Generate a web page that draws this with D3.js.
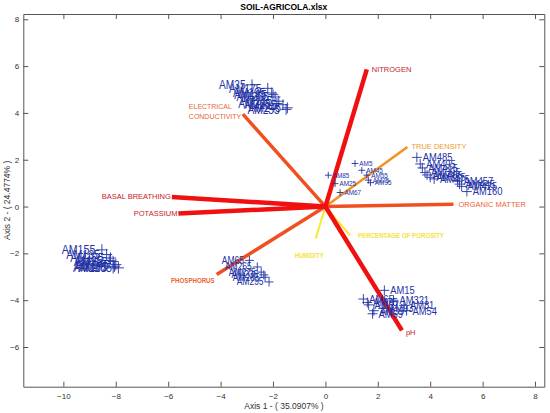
<!DOCTYPE html>
<html>
<head>
<meta charset="utf-8">
<script src="https://cdn.jsdelivr.net/npm/d3@7"></script>
<style>
	body { margin: 0; background: #fff; }
	text { font-family: "Liberation Sans", Arial, sans-serif; }
</style>
</head>
<body>
<div id="chart"></div>
<script>
// loading vectors (variables)
var varNames = ["NITROGEN", "TRUE DENSITY", "ORGANIC MATTER", "pH", "PERCENTAGE OF POROSITY",
	"HUMIDITY", "PHOSPHORUS", "POTASSIUM", "BASAL BREATHING", "ELECTRICAL CONDUCTIVITY"];
var varX = [1.58, 3.13, 4.89, 2.92, 0.94, -0.37, -4.15, -5.61, -5.86, -3.15];
var varY = [5.86, 2.54, 0.10, -5.29, -1.23, -1.37, -2.90, -0.30, 0.41, 3.95];

// observation clusters (scores)
var upperNames = ["AM35", "AM175", "AM185", "AM195", "AM205", "AM215", "AM265", "AM225", "AM245", "AM255"];
var upperX = [-2.80, -2.20, -2.00, -2.05, -1.92, -1.78, -1.85, -1.62, -1.45, -1.50];
var upperY = [5.20, 5.05, 4.78, 4.85, 4.68, 4.50, 4.40, 4.35, 4.22, 4.15];

var leftNames = ["AM155", "AM135", "AM125", "AM95", "AM115", "AM145", "AM175", "AM105", "AM165"];
var leftX = [-8.53, -8.35, -8.20, -8.25, -8.10, -8.00, -8.05, -7.90, -8.10];
var leftY = [-1.85, -2.05, -2.20, -2.30, -2.35, -2.48, -2.55, -2.62, -2.62];

var phosNames = ["AM65", "AM265", "AM275", "AM235", "AM285", "AM295"];
var phosX = [-2.90, -2.60, -2.45, -2.35, -2.30, -2.15];
var phosY = [-2.30, -2.58, -2.80, -2.92, -3.02, -3.22];

var centerNames = ["AM5", "AM85", "AM25", "AM67", "AM45", "AM55", "AM75", "AM95"];
var centerX = [1.13, 0.11, 0.37, 0.56, 1.39, 1.58, 1.64, 1.72];
var centerY = [1.84, 1.34, 0.98, 0.60, 1.55, 1.34, 1.13, 1.02];

var rightNames = ["AM485", "AM495", "AM415", "AM395", "AM465", "AM355", "AM475", "AM457", "AM445", "AM425", "AM160"];
var rightX = [3.49, 3.62, 3.70, 3.80, 3.88, 4.00, 4.15, 5.05, 5.12, 5.20, 5.40];
var rightY = [2.10, 1.82, 1.65, 1.45, 1.35, 1.25, 1.18, 1.08, 0.96, 0.86, 0.64];

var lowerNames = ["AM15", "AM65", "AM321", "AM87", "AM75", "AM81", "AM93", "AM54", "AM39", "AM59"];
var lowerX = [2.25, 1.45, 2.60, 1.65, 1.60, 3.00, 2.20, 3.10, 1.85, 1.80];
var lowerY = [-3.58, -3.95, -4.00, -4.20, -4.10, -4.22, -4.35, -4.45, -4.45, -4.58];

var xTicks = [-10, -8, -6, -4, -2, 0, 2, 4, 6, 8];
var yTicks = [-6, -4, -2, 0, 2, 4, 6, 8];

var width = 550, height = 413;
var box = { left: 23.3, top: 14, right: 544.3, bottom: 386.7 };

var svg = d3.select("#chart")
	.append("svg")
	.attr("width", width)
	.attr("height", height);

var x = d3.scaleLinear().domain([-11.53, 8.355]).range([box.left, box.right]);
var y = d3.scaleLinear().domain([-7.696, 8.226]).range([box.bottom, box.top]);

// axes, matlab style box with inward ticks
var axColor = "#555";
svg.append("g")
	.attr("transform", "translate(0," + box.bottom + ")")
	.call(d3.axisBottom(x).tickValues(xTicks).tickSize(-5).tickPadding(7).tickSizeOuter(0))
	.call(function(g) {
		g.selectAll("text").style("font-size", "8px").attr("fill", "#333");
		g.selectAll("line, path").attr("stroke", axColor);
	});
svg.append("g")
	.attr("transform", "translate(" + box.left + ",0)")
	.call(d3.axisLeft(y).tickValues(yTicks).tickSize(-5).tickPadding(4).tickSizeOuter(0))
	.call(function(g) {
		g.selectAll("text").style("font-size", "8px").attr("fill", "#333");
		g.selectAll("line, path").attr("stroke", axColor);
	});
svg.append("g")
	.attr("transform", "translate(0," + box.top + ")")
	.call(d3.axisTop(x).tickValues(xTicks).tickSize(-5).tickFormat("").tickSizeOuter(0))
	.call(function(g) { g.selectAll("line, path").attr("stroke", axColor); });
svg.append("g")
	.attr("transform", "translate(" + box.right + ",0)")
	.call(d3.axisRight(y).tickValues(yTicks).tickSize(-5).tickFormat("").tickSizeOuter(0))
	.call(function(g) { g.selectAll("line, path").attr("stroke", axColor); });

// title and axis labels
svg.append("text")
	.attr("x", (box.left + box.right) / 2)
	.attr("y", 10)
	.attr("text-anchor", "middle")
	.style("font-size", "8.5px")
	.style("font-weight", "bold")
	.text("SOIL-AGRICOLA.xlsx");
svg.append("text")
	.attr("x", 284)
	.attr("y", 409)
	.attr("text-anchor", "middle")
	.style("font-size", "8.5px")
	.attr("fill", "#333")
	.text("Axis 1 - ( 35.0907% )");
svg.append("text")
	.attr("transform", "translate(10," + ((box.top + box.bottom) / 2) + ") rotate(-90)")
	.attr("text-anchor", "middle")
	.style("font-size", "8.5px")
	.attr("fill", "#333")
	.text("Axis 2 - ( 24.4774% )");

// vector styles: line colour, width, label colour, label offset, anchor, weight, squeeze
var vecStyle = {
	"NITROGEN": { c: "#f01010", w: 4.5, lc: "#c8202a", dx: 5, dy: 3, a: "start", b: false, s: 1 },
	"TRUE DENSITY": { c: "#f59020", w: 2.5, lc: "#ef9a30", dx: 4, dy: 2, a: "start", b: false, s: 1 },
	"ORGANIC MATTER": { c: "#f05020", w: 3.5, lc: "#ea6536", dx: 5, dy: 3, a: "start", b: false, s: 1 },
	"pH": { c: "#f01010", w: 4.5, lc: "#c8202a", dx: 4, dy: 5, a: "start", b: false, s: 1 },
	"PERCENTAGE OF POROSITY": { c: "#fbe830", w: 2, lc: "#f4e33c", dx: 8, dy: 3, a: "start", b: true, s: 0.82 },
	"HUMIDITY": { c: "#fbe830", w: 2, lc: "#f4e33c", dx: -21, dy: 19, a: "start", b: true, s: 0.8 },
	"PHOSPHORUS": { c: "#f05020", w: 3.5, lc: "#ea6536", dx: -2, dy: 8.5, a: "end", b: true, s: 0.82 },
	"POTASSIUM": { c: "#f01010", w: 4.5, lc: "#c8202a", dx: -1, dy: 2.5, a: "end", b: false, s: 1 },
	"BASAL BREATHING": { c: "#f01010", w: 4.5, lc: "#c8202a", dx: -1, dy: 2.5, a: "end", b: false, s: 1 },
	"ELECTRICAL CONDUCTIVITY": { c: "#f05020", w: 3.5, lc: "#ea6536", dx: -54, dy: 0, a: "start", b: false, s: 0.93 }
};

var vecs = varNames.map(function(n, i) { return { name: n, x: varX[i], y: varY[i] }; });
var drawOrder = [4, 5, 1, 2, 6, 9, 7, 8, 0, 3].map(function(i) { return vecs[i]; });

svg.append("g").selectAll("line")
	.data(drawOrder)
	.enter()
	.append("line")
	.attr("x1", x(0))
	.attr("y1", y(0))
	.attr("x2", function(d) { return x(d.x); })
	.attr("y2", function(d) { return y(d.y); })
	.attr("stroke", function(d) { return vecStyle[d.name].c; })
	.attr("stroke-width", function(d) { return vecStyle[d.name].w; });

// observations
var clusters = [
	{ names: upperNames, xs: upperX, ys: upperY, fs: 12, side: -1 },
	{ names: leftNames, xs: leftX, ys: leftY, fs: 12.5, side: -1 },
	{ names: phosNames, xs: phosX, ys: phosY, fs: 10, side: -1 },
	{ names: centerNames, xs: centerX, ys: centerY, fs: 7.5, side: 1 },
	{ names: rightNames, xs: rightX, ys: rightY, fs: 11, side: 1 },
	{ names: lowerNames, xs: lowerX, ys: lowerY, fs: 11, side: 1 }
];
var blue = "#2232a6";
var squeeze = 0.85;
clusters.forEach(function(c) {
	var pts = c.names.map(function(n, i) { return { name: n, x: c.xs[i], y: c.ys[i] }; });
	var g = svg.append("g");
	var m = c.fs * 0.45;
	var gp = g.selectAll("g.pt")
		.data(pts)
		.enter()
		.append("g")
		.attr("class", "pt")
		.attr("transform", function(d) { return "translate(" + x(d.x) + "," + y(d.y) + ")"; });
	gp.append("path")
		.attr("d", "M" + (-m) + ",0H" + m + "M0," + (-m) + "V" + m)
		.attr("stroke", blue)
		.attr("stroke-width", 0.9)
		.attr("fill", "none");
	gp.append("text")
		.attr("transform", "scale(" + squeeze + ",1)")
		.attr("x", c.side * (m + 1) / squeeze)
		.attr("dy", "0.35em")
		.attr("text-anchor", c.side < 0 ? "end" : "start")
		.style("font-size", c.fs + "px")
		.attr("fill", blue)
		.text(function(d) { return d.name; });
});

// vector labels
svg.append("g").selectAll("text")
	.data(vecs)
	.enter()
	.append("text")
	.attr("transform", function(d) {
		var st = vecStyle[d.name];
		return "translate(" + (x(d.x) + st.dx) + "," + (y(d.y) + st.dy) + ") scale(" + st.s + ",1)";
	})
	.attr("text-anchor", function(d) { return vecStyle[d.name].a; })
	.attr("fill", function(d) { return vecStyle[d.name].lc; })
	.style("font-weight", function(d) { return vecStyle[d.name].b ? "bold" : "normal"; })
	.style("font-size", "7.5px")
	.each(function(d) {
		var t = d3.select(this);
		if (d.name === "ELECTRICAL CONDUCTIVITY") {
			t.append("tspan").attr("x", 0).attr("dy", -5).text("ELECTRICAL");
			t.append("tspan").attr("x", 0).attr("dy", 9.5).text("CONDUCTIVITY");
		} else {
			t.text(d.name);
		}
	});
</script>
</body>
</html>
